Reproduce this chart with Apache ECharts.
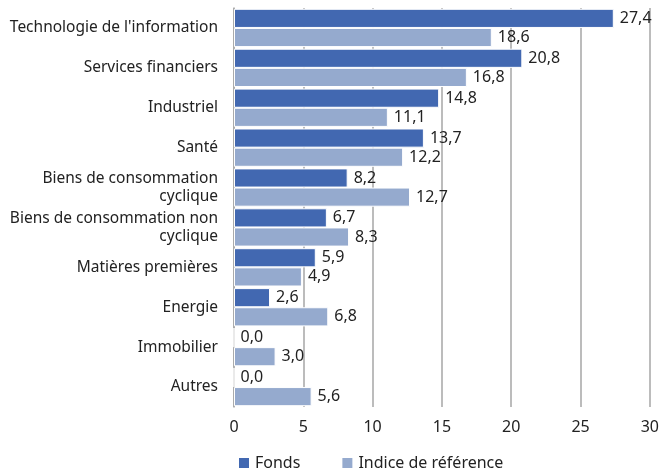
<!DOCTYPE html>
<html>
<head>
<meta charset="utf-8">
<script src="https://cdn.jsdelivr.net/npm/echarts@6/dist/echarts.min.js"></script>
<style>
  html, body { margin: 0; padding: 0; background: #fff; }
  #chart { width: 662px; height: 475px; }
</style>
</head>
<body>
<div id="chart"></div>
<script>
  var categories = [
    "Technologie de l'information",
    'Services financiers',
    'Industriel',
    'Santé',
    'Biens de consommation\ncyclique',
    'Biens de consommation non\ncyclique',
    'Matières premières',
    'Energie',
    'Immobilier',
    'Autres'
  ];
  var fonds = [27.4, 20.8, 14.8, 13.7, 8.2, 6.7, 5.9, 2.6, 0.0, 0.0];
  var indice = [18.6, 16.8, 11.1, 12.2, 12.7, 8.3, 4.9, 6.8, 3.0, 5.6];
  var seriesNames = ['Fonds', 'Indice de référence'];
  var colors = ['#4268b1', '#95aace'];

  var font = '"Noto Sans", sans-serif';
  var fmt = function (p) { return p.value.toFixed(1).replace('.', ','); };

  var chart = echarts.init(document.getElementById('chart'));
  chart.setOption({
    animation: false,
    textStyle: { fontFamily: font },
    grid: { left: 234, right: 10, top: 8, bottom: 68 },
    legend: {
      bottom: -1,
      left: 232,
      itemWidth: 12,
      itemHeight: 12,
      itemGap: 40,
      icon: 'rect',
      textStyle: { fontSize: 16, color: '#222', fontFamily: font },
      data: seriesNames
    },
    xAxis: {
      type: 'value',
      min: 0,
      max: 30,
      interval: 5,
      axisLine: { show: false },
      axisTick: { show: false },
      axisLabel: { fontSize: 16, color: '#222', margin: 12, fontFamily: font },
      splitLine: { lineStyle: { color: '#a6a6a6', width: 1.5 } }
    },
    yAxis: {
      type: 'category',
      inverse: true,
      data: categories,
      axisLine: { lineStyle: { color: '#a6a6a6', width: 1.5 } },
      axisTick: { show: false },
      axisLabel: { fontSize: 15.5, color: '#222', margin: 16, lineHeight: 18, fontFamily: font }
    },
    series: [
      {
        name: seriesNames[0],
        type: 'bar',
        data: fonds,
        barGap: '0%',
        barCategoryGap: '4%',
        itemStyle: { color: colors[0], borderColor: '#fff', borderWidth: 1 },
        label: { show: true, position: 'right', distance: 6, fontSize: 16, color: '#222', formatter: fmt }
      },
      {
        name: seriesNames[1],
        type: 'bar',
        data: indice,
        itemStyle: { color: colors[1], borderColor: '#fff', borderWidth: 1 },
        label: { show: true, position: 'right', distance: 6, fontSize: 16, color: '#222', formatter: fmt }
      }
    ]
  });
</script>
</body>
</html>
